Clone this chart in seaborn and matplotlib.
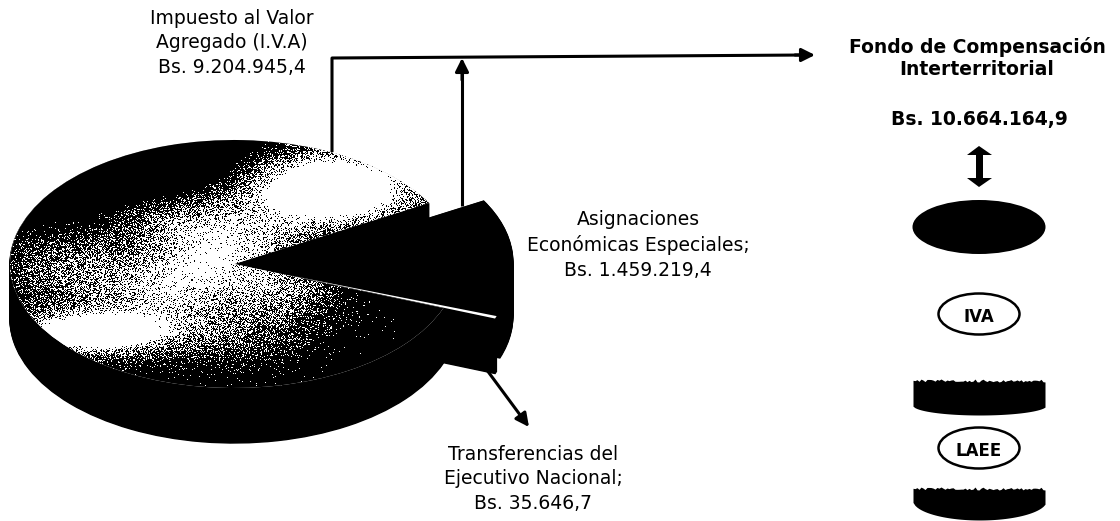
import numpy as np
import matplotlib
matplotlib.use("Agg")
import matplotlib.pyplot as plt
import seaborn as sns
from matplotlib.patches import Ellipse, Polygon

# values in Bs.
labels = ["IVA", "Transferencias", "Asignaciones"]
values = [9204945.4, 35646.7, 1459219.4]
explode = [0, 55, 55]
top_colors = ["white", "white", "black"]

text_iva = "Impuesto al Valor\nAgregado (I.V.A)\nBs. 9.204.945,4"
text_aee = "Asignaciones\nEconómicas Especiales;\nBs. 1.459.219,4"
text_tra = "Transferencias del\nEjecutivo Nacional;\nBs. 35.646,7"
text_fondo = "Fondo de Compensación\nInterterritorial"
text_total = "Bs. 10.664.164,9"

sns.set_theme(style="white")
plt.rcParams['font.family'] = ['DejaVu Sans']

W, H = 1120, 521
fig = plt.figure(figsize=(11.2, 5.21), dpi=100, facecolor="white")

# pie axes, y stretched so the round pie comes out as an ellipse
cx, cy, rx, ry, depth = 234, 264, 224, 124, 55
stretch = rx / ry


def to_y(py):
    return (H - py) * stretch


ax_pie = fig.add_axes([0, 0, 1, 1])
start = 29.5
for d in range(depth, 0, -1):
    ax_pie.pie(values, explode=explode, center=(cx, to_y(cy + d)), radius=rx, startangle=start,
               colors=["black"] * 3, wedgeprops={"linewidth": 1, "edgecolor": "black"})
wedges, _ = ax_pie.pie(values, explode=explode, center=(cx, to_y(cy)), radius=rx,
                       startangle=start, colors=top_colors, wedgeprops={"linewidth": 0})
ax_pie.set_aspect("auto")
ax_pie.set_xlim(0, W)
ax_pie.set_ylim(0, H * stretch)
ax_pie.axis("off")

# overlay in pixel coordinates
ax = fig.add_axes([0, 0, 1, 1], facecolor="none")
ax.set_xlim(0, W)
ax.set_ylim(H, 0)
ax.axis("off")

# speckled shading on the big slice
yy, xx = np.mgrid[0:H, 0:W]


def blob(x0, y0, sx, sy, amp):
    return amp * np.exp(-((xx - x0) / sx) ** 2 - ((yy - y0) / sy) ** 2)


light = (blob(330, 188, 80, 35, 1.7) + blob(225, 250, 75, 45, 0.85)
         + blob(160, 290, 70, 35, 0.6) + blob(95, 332, 70, 20, 1.6)
         + blob(70, 270, 60, 35, 0.45) + blob(230, 330, 70, 30, 0.35)
         + blob(285, 290, 45, 25, 0.4) + blob(170, 215, 70, 30, 0.35)
         - blob(110, 160, 130, 45, 0.7))
grain = np.sin(xx * 12.9898 + yy * 78.233) * 43758.5453
grain = grain - np.floor(grain)
shade = (grain < light).astype(float)
im = ax.imshow(shade, cmap="gray", vmin=0, vmax=1, extent=(0, W, H, 0),
               interpolation="nearest", aspect="auto", zorder=1)
im.set_clip_path(wedges[0])

# connector lines
line = dict(color="black", lw=2.2, solid_capstyle="butt", zorder=3)
ax.plot([332, 332, 806], [152, 58, 55], **line)
ax.plot([462, 462], [206, 68], **line)
arrow = dict(arrowstyle="-|>,head_length=0.5,head_width=0.25", color="black", lw=2.2,
             mutation_scale=16, shrinkA=0, shrinkB=0)
ax.annotate("", xy=(815, 55), xytext=(795, 55), arrowprops=arrow, zorder=3)
ax.annotate("", xy=(462, 58), xytext=(462, 80), arrowprops=arrow, zorder=3)
ax.annotate("", xy=(529, 427), xytext=(478, 358), arrowprops=arrow, zorder=3)

# labels
txt = dict(ha="center", va="center", color="black", fontsize=13.5, linespacing=1.38, zorder=4)
ax.text(232, 43, text_iva, **txt)
ax.text(638, 245, text_aee, **txt)
ax.text(533, 479, text_tra, **txt)
ax.text(977, 58, text_fondo, ha="center", va="center", color="black", fontsize=13.5,
        fontweight="bold", linespacing=1.25)
ax.text(979, 120, text_total, ha="center", va="center", color="black", fontsize=13.5, fontweight="bold")

# right column
ax.add_patch(Polygon([(979, 146), (992, 155), (983, 155), (983, 178), (992, 178), (979, 187),
                      (967, 178), (976, 178), (976, 155), (967, 155)], color="black", lw=0))
ax.add_patch(Ellipse((979, 227), 133, 54, color="black", lw=0))
for y0, s in [(314, "IVA"), (448, "LAEE")]:
    ax.add_patch(Ellipse((979, y0), 81, 41, fc="white", ec="black", lw=1.8))
    ax.text(979, y0 + 3, s, ha="center", va="center", color="black", fontsize=12, fontweight="bold")

# rough-topped disc pieces
xs = np.arange(913, 1047, 2)
rough = np.sin(xs * 12.9898) * 43758.5453
rough = rough - np.floor(rough)
bulge = np.sqrt(np.clip(1 - ((xs - 979.5) / 67) ** 2, 0, 1))
ax.fill_between(xs, 382 - 3 * rough, 405 + 10 * bulge, color="black", lw=0)
ax.fill_between(xs, 490 - 3 * rough, 500 + 20 * bulge, color="black", lw=0)

fig.savefig("out.png", dpi=100)
